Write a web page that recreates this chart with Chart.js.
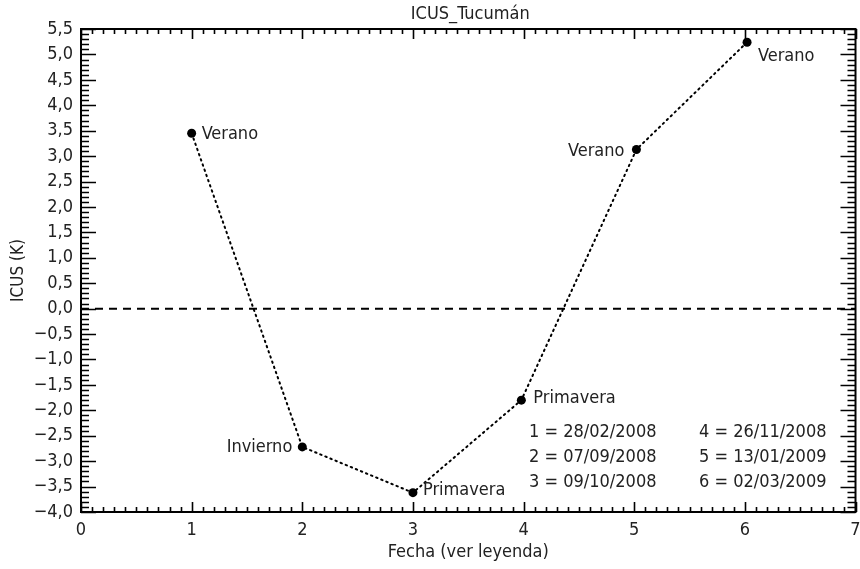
<!DOCTYPE html>
<html>
<head>
<meta charset="utf-8">
<script src="https://cdn.jsdelivr.net/npm/chart.js@4/dist/chart.umd.min.js"></script>
<style>
html,body{margin:0;padding:0;background:#fff;}
#wrap{width:860px;height:569px;}
</style>
</head>
<body>
<div id="wrap"><canvas id="c" width="860" height="569"></canvas></div>
<script>
const xValues = [1, 2, 3, 3.98, 5.02, 6.02];
const yValues = [3.45, -2.72, -3.62, -1.8, 3.13, 5.24];
const seasonLabels = ["Verano", "Invierno", "Primavera", "Primavera", "Verano", "Verano"];
const dateLegend = ["1 = 28/02/2008", "2 = 07/09/2008", "3 = 09/10/2008", "4 = 26/11/2008", "5 = 13/01/2009", "6 = 02/03/2009"];
const chartTitle = "ICUS_Tucumán";
const xTitle = "Fecha (ver leyenda)";
const yTitle = "ICUS (K)";

const FONT = "'Liberation Sans Narrow','DejaVu Sans Condensed','Arial Narrow',sans-serif";
const TXT = "#222";

const points = xValues.map((x, i) => ({x: x, y: yValues[i]}));

const labelPlace = [
  {align:'left', dx:10, dy:1},
  {align:'right', dx:-10, dy:0},
  {align:'left', dx:10, dy:-2},
  {align:'left', dx:12, dy:-2},
  {align:'right', dx:-12, dy:2},
  {align:'left', dx:11, dy:14}
];

const decor = {
  id: 'decor',
  beforeDatasetsDraw(chart) {
    const ctx = chart.ctx, ys = chart.scales.y;
    const a = chart.chartArea;
    ctx.save();
    ctx.strokeStyle = '#000';
    ctx.lineWidth = 2;
    ctx.setLineDash([8, 6]);
    const y0 = ys.getPixelForValue(0);
    ctx.beginPath(); ctx.moveTo(a.left, y0); ctx.lineTo(a.right, y0); ctx.stroke();
    ctx.restore();
  },
  afterDraw(chart) {
    const ctx = chart.ctx, xs = chart.scales.x, ys = chart.scales.y;
    const a = chart.chartArea;
    ctx.save();
    ctx.strokeStyle = '#000';
    ctx.lineWidth = 2;
    ctx.setLineDash([]);
    ctx.strokeRect(a.left, a.top, a.right - a.left, a.bottom - a.top);
    ctx.lineWidth = 1.6;
    for (let i = 0; i <= 70; i++) {
      const v = i / 10;
      const px = Math.round(xs.getPixelForValue(v)) + 0.5;
      const len = (i % 10 === 0) ? 10 : 5;
      ctx.beginPath();
      ctx.moveTo(px, a.bottom); ctx.lineTo(px, a.bottom - len);
      ctx.moveTo(px, a.top); ctx.lineTo(px, a.top + len);
      ctx.stroke();
    }
    for (let i = -40; i <= 55; i++) {
      const v = i / 10;
      const py = Math.round(ys.getPixelForValue(v)) + 0.5;
      const len = (i % 5 === 0) ? 15 : 8;
      ctx.beginPath();
      ctx.moveTo(a.left, py); ctx.lineTo(a.left + len, py);
      ctx.moveTo(a.right, py); ctx.lineTo(a.right - len, py);
      ctx.stroke();
    }
    ctx.fillStyle = TXT;
    ctx.font = "18px " + FONT;
    ctx.textAlign = 'center';
    ctx.textBaseline = 'middle';
    ctx.fillText(chartTitle, (a.left + a.right) / 2 + 2, 14);
    points.forEach((p, i) => {
      const px = xs.getPixelForValue(p.x), py = ys.getPixelForValue(p.y);
      const lp = labelPlace[i];
      ctx.textAlign = lp.align;
      ctx.fillText(seasonLabels[i], px + lp.dx, py + lp.dy);
    });
    ctx.textAlign = 'left';
    for (let i = 0; i < dateLegend.length; i++) {
      const col = Math.floor(i / 3), row = i % 3;
      ctx.fillText(dateLegend[i], 529 + col * 170, a.bottom - 80 + row * 25);
    }
    ctx.restore();
  }
};

new Chart(document.getElementById('c'), {
  type: 'scatter',
  data: {
    datasets: [{
      data: points,
      showLine: true,
      borderColor: '#000',
      borderWidth: 2,
      borderDash: [1.5, 4],
      borderCapStyle: 'round',
      pointRadius: 4.5,
      pointBackgroundColor: '#000',
      pointBorderColor: '#000',
      pointBorderWidth: 0,
      tension: 0
    }]
  },
  options: {
    responsive: false,
    animation: false,
    devicePixelRatio: 1,
    layout: {padding: {top: 29, right: 3, left: 0, bottom: 0}},
    plugins: {legend: {display: false}, tooltip: {enabled: false}, title: {display: false}},
    scales: {
      x: {
        type: 'linear', min: 0, max: 7,
        grid: {display: false, drawTicks: false},
        border: {display: false},
        ticks: {stepSize: 1, padding: 8, color: TXT, font: {family: FONT, size: 18}},
        title: {display: true, text: xTitle, color: TXT, font: {family: FONT, size: 18}, padding: {top: 6, bottom: 6}},
        afterFit(s) { s.height = 57; s.paddingRight = 0; s.paddingLeft = 0; }
      },
      y: {
        type: 'linear', min: -4, max: 5.5,
        grid: {display: false, drawTicks: false},
        border: {display: false},
        ticks: {
          stepSize: 0.5, padding: 8, color: TXT, font: {family: FONT, size: 18},
          callback: (v) => {
            const r = Math.round(v * 10) / 10;
            const s = Math.abs(r).toFixed(1).replace('.', ',');
            return (r < 0 ? '\u2212' : '') + s;
          }
        },
        title: {display: true, text: yTitle, color: TXT, font: {family: FONT, size: 17}, padding: {top: 8, bottom: 0}},
        afterFit(s) { s.width = 81; s.paddingTop = 0; s.paddingBottom = 0; }
      }
    }
  },
  plugins: [decor]
});
</script>
</body>
</html>
